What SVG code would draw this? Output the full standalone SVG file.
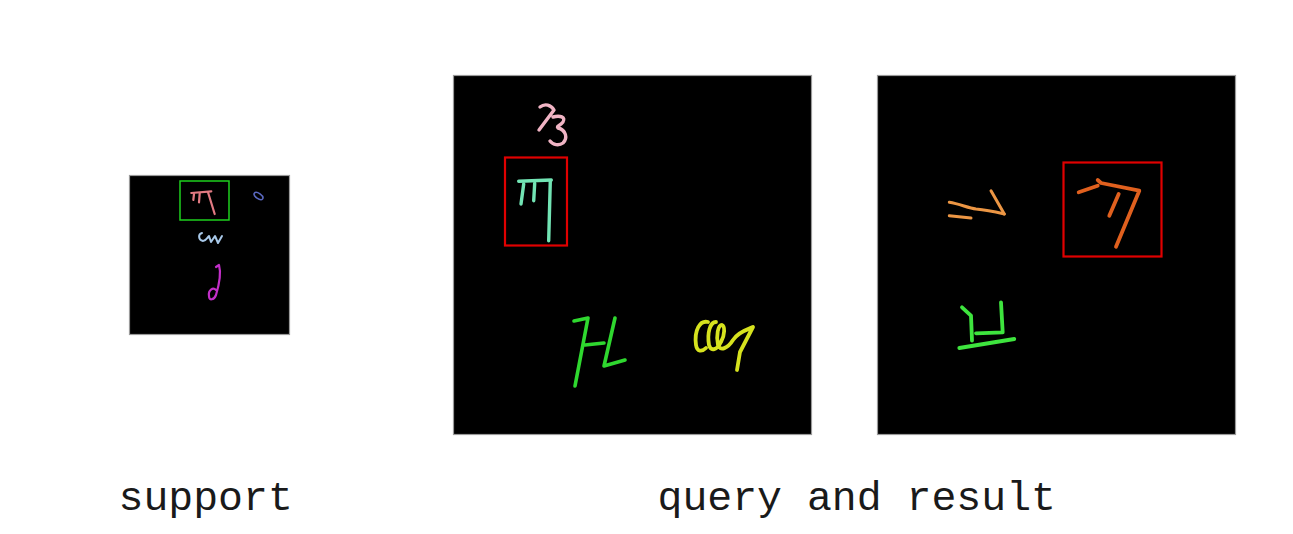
<svg xmlns="http://www.w3.org/2000/svg" width="1293" height="534" viewBox="0 0 1293 534">
<style>
.panel{fill:#000;stroke:#9a9a9a;stroke-width:1.2}
.s{fill:none;stroke-linecap:round;stroke-linejoin:round}
.lbl{font-family:"Liberation Mono","DejaVu Sans Mono",monospace;font-size:41.5px;fill:#1a1a1a}
</style>
<rect width="1293" height="534" fill="#fff"/>
<g id="support">
<rect class="panel" x="129.5" y="175.5" width="160" height="159"/>
<rect x="180" y="181" width="49" height="39" fill="none" stroke="#1ed01e" stroke-width="1.5"/>
<g class="s" stroke="#e27a82" stroke-width="2.2">
<path d="M191.3,193 L211.3,191.3"/>
<path d="M194,194 L193.3,200"/>
<path d="M199.7,193.3 L199,202.3"/>
<path d="M208,192.3 L214.7,214"/>
</g>
<ellipse cx="258.5" cy="196" rx="5" ry="2.6" transform="rotate(35 258.5 196)" fill="none" stroke="#5a68c0" stroke-width="1.6"/>
<path class="s" stroke="#a8c8e8" stroke-width="2" d="M202,233 C198,234 198,240 203,241 C206,241 207,238 209,236 L211,242 L215,236 L218,243 L222,236"/>
<path class="s" stroke="#c22fc8" stroke-width="2.2" d="M216,267 L219,265 C221,272 219,285 216,295 C214,300 209,301 209,296 C208,290 213,287 216,290"/>
</g>
<g id="query">
<rect class="panel" x="453.5" y="75.5" width="358" height="359"/>
<path class="s" stroke="#f0b4c4" stroke-width="3.4" d="M540,107 C545,103 551,105 554,110 L539,130 M553,117 C560,115 566,117 563,122 C560,126 556,126 558,128 C566,130 568,138 563,143 C559,146 553,145 550,141"/>
<rect x="505" y="157.5" width="62" height="88" fill="none" stroke="#e00000" stroke-width="2.2"/>
<g class="s" stroke="#72e4b4" stroke-width="3.4">
<path d="M518.7,181.3 L551.3,180"/>
<path d="M523.7,184 L521,204"/>
<path d="M534.7,183.3 L533.7,200.7"/>
<path d="M550.3,180.7 L548.7,240.7"/>
</g>
<g class="s" stroke="#2fd82f" stroke-width="3.6">
<path d="M574,321 L588,318 L575,386"/>
<path d="M585,345 L604,343"/>
<path d="M615,318 L604,366 L625,360"/>
</g>
<path class="s" stroke="#d6e21e" stroke-width="3.8" d="M708,322 C700,320 694,330 696,345 C697,352 702,352 706,348 M716,322 C710,322 707,333 709,345 C711,352 717,350 721,342 C725,335 725,326 722,325 C718,325 716,335 718,345 C720,352 728,348 733,340 C740,330 748,330 753,327 L740,352 L737,370"/>
</g>
<g id="result">
<rect class="panel" x="877.5" y="75.5" width="358" height="359"/>
<rect x="1063.5" y="162.5" width="98" height="94" fill="none" stroke="#e00000" stroke-width="2.2"/>
<g class="s" stroke="#e0601e" stroke-width="3.8">
<path d="M1078.7,192.3 L1097.7,185.7"/>
<path d="M1097.7,180 L1101,183 L1139.3,190.7 L1116,246.7"/>
<path d="M1118.7,194 L1109.3,215.7"/>
</g>
<g class="s" stroke="#ec9644" stroke-width="3">
<path d="M949.3,202.3 C960,204 968,208 976,209 C988,210 996,212 1004.3,214"/>
<path d="M991,190.7 L1004.3,214"/>
<path d="M949.3,215.7 L971,218"/>
</g>
<g class="s" stroke="#3ee43e" stroke-width="3.8">
<path d="M962,307.3 L971,315.7 L972,340.7"/>
<path d="M1001,302.3 L1002.7,332.3 L976,333.3"/>
<path d="M959.3,348 L1014.3,339"/>
</g>
</g>
<g id="labels">
<text class="lbl" x="118.5" y="510">support</text>
<text class="lbl" x="657.5" y="510">query and result</text>
</g>
</svg>
